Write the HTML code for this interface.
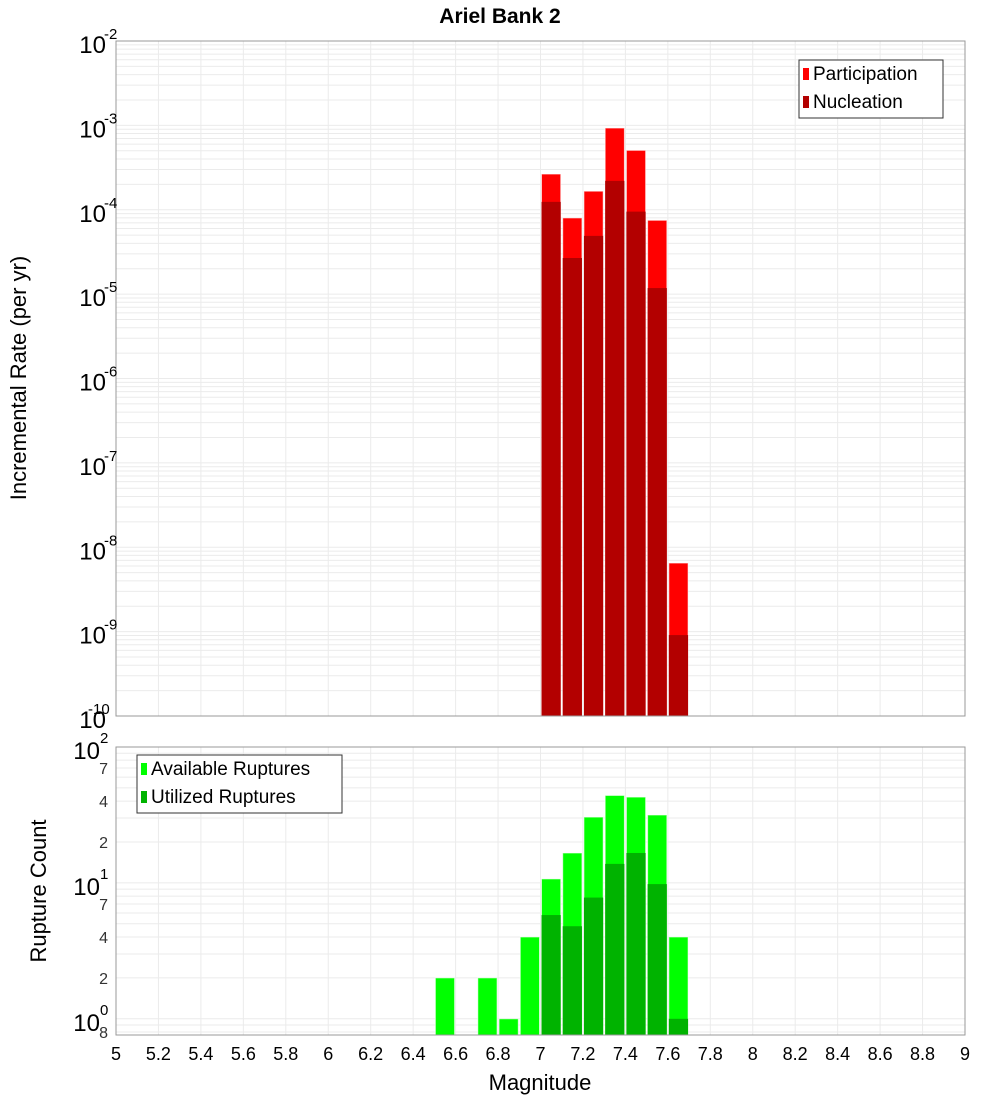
<!DOCTYPE html>
<html><head><meta charset="utf-8"><style>
body{margin:0;background:#fff;}
svg text{font-family:"Liberation Sans","DejaVu Sans",sans-serif;}
</style></head><body>
<svg id="chart" width="1000" height="1100" xmlns="http://www.w3.org/2000/svg">
<text x="500" y="23" text-anchor="middle" font-size="21" font-weight="bold">Ariel Bank 2</text>
<g id="top"></g><g id="bot"></g>
<text transform="translate(26,378) rotate(-90)" text-anchor="middle" font-size="22">Incremental Rate (per yr)</text>
<text transform="translate(46,891) rotate(-90)" text-anchor="middle" font-size="22">Rupture Count</text>
<text x="540" y="1090" text-anchor="middle" font-size="22">Magnitude</text>
</svg>
<script>
const mags=[6.55,6.75,6.85,6.95,7.05,7.15,7.25,7.35,7.45,7.55,7.65];
const participation=[0,0,0,0,2.65e-4,8.0e-5,1.66e-4,9.3e-4,5.06e-4,7.5e-5,6.5e-9];
const nucleation=[0,0,0,0,1.24e-4,2.68e-5,4.9e-5,2.2e-4,9.5e-5,1.18e-5,9.1e-10];
const available=[2,2,1,4,10.7,16.6,30.5,44,42.8,31.6,4];
const utilized=[0,0,0,0,5.8,4.8,7.8,13.8,16.6,9.8,1];
const xTicks=[5,5.2,5.4,5.6,5.8,6,6.2,6.4,6.6,6.8,7,7.2,7.4,7.6,7.8,8,8.2,8.4,8.6,8.8,9];
const topDecades=[-10,-9,-8,-7,-6,-5,-4,-3,-2];
const botMinorLabels=[0.8,2,4,7,20,40,70];

const NS="http://www.w3.org/2000/svg";
const X0=116,X1=965;
const T0=41,T1=716,B0=747,B1=1035;
const xs=m=>X0+(m-5)/4*(X1-X0);
const yTop=v=>T0+(-2-Math.log10(v))/8*(T1-T0);
const BMIN=0.76,BMAX=100;
const yBot=v=>B0+(Math.log10(BMAX)-Math.log10(v))/(Math.log10(BMAX)-Math.log10(BMIN))*(B1-B0);
function mk(tag,attrs,parent){const e=document.createElementNS(NS,tag);for(const k in attrs)e.setAttribute(k,attrs[k]);parent.appendChild(e);return e;}
const gT=document.getElementById('top'),gB=document.getElementById('bot');

function frame(g,y0,y1,yf,mn,mx,nameP){
  mk('rect',{x:X0,y:y0,width:X1-X0,height:y1-y0,fill:'#fff'},g);
  for(let e=Math.floor(Math.log10(mn));e<=Math.log10(mx);e++){
    for(let k=1;k<10;k++){const v=k*Math.pow(10,e);if(v<mn||v>mx)continue;const y=yf(v);
      const l=mk('line',{x1:X0,x2:X1,y1:y,y2:y,stroke:'#ebebeb','stroke-width':1},g);
      
      }
  }
  xTicks.forEach(t=>{const x=xs(t);const l=mk('line',{x1:x,x2:x,y1:y0,y2:y1,stroke:'#ebebeb'},g);
    
    });
}
function border(g,y0,y1,nameP){const r=mk('rect',{x:X0,y:y0,width:X1-X0,height:y1-y0,fill:'none',stroke:'#999'},g);
  
  }

frame(gT,T0,T1,yTop,1e-10,1e-2,'top');
mags.forEach((m,i)=>{
  const x=xs(m-0.05)+1,w=xs(m+0.05)-xs(m-0.05)-2;
  if(participation[i]>0){const r=mk('rect',{x:x,y:yTop(participation[i]),width:w,height:T1-yTop(participation[i]),fill:'#ff0000',stroke:'#fff','stroke-opacity':0.6},gT);
    
    }
  if(nucleation[i]>0){const r=mk('rect',{x:x,y:yTop(nucleation[i]),width:w,height:T1-yTop(nucleation[i]),fill:'#b30000'},gT);
    
    }
});
border(gT,T0,T1,'top');
topDecades.forEach(e=>{const y=yTop(Math.pow(10,e));
  const t=mk('text',{x:X0-10,y:y+12,'text-anchor':'end','font-size':24},gT);
  
  
  t.textContent='10';
  const s=mk('text',{x:X0-10,y:y-2,'font-size':15},gT);
  
  
  s.textContent=String(e);
  if(e<=-10) s.setAttribute('x',X0-28); else s.setAttribute('x',X0-12);
  s.setAttribute('text-anchor', e<=-10 ? 'start':'start');
});

frame(gB,B0,B1,yBot,BMIN,BMAX,'bottom');
mags.forEach((m,i)=>{
  const x=xs(m-0.05)+1,w=xs(m+0.05)-xs(m-0.05)-2;
  if(available[i]>0){const r=mk('rect',{x:x,y:yBot(available[i]),width:w,height:B1-yBot(available[i]),fill:'#00ff00',stroke:'#fff','stroke-opacity':0.6},gB);
    
    }
  if(utilized[i]>0){const r=mk('rect',{x:x,y:yBot(utilized[i]),width:w,height:B1-yBot(utilized[i]),fill:'#00b300'},gB);
    
    }
});
border(gB,B0,B1,'bottom');
[0,1,2].forEach(e=>{const y=yBot(Math.pow(10,e));
  const t=mk('text',{x:X0-16,y:y+12,'text-anchor':'end','font-size':24},gB);
  
  
  t.textContent='10';
  const s=mk('text',{x:X0-16,y:y-4,'font-size':15},gB);
  
  
  s.textContent=String(e);
});
botMinorLabels.forEach(v=>{const y=yBot(v);
  const t=mk('text',{x:X0-8,y:y+6,'text-anchor':'end','font-size':16,fill:'#333'},gB);
  
  
  t.textContent=String(v<1?Math.round(v*10):v%10===0?v/10:v);
});
xTicks.forEach(t=>{const x=xs(t);
  const l=mk('text',{x:x,y:1060,'text-anchor':'middle','font-size':18},gB);
  
  
  l.textContent=String(t);
});

function legend(g,x,y,w,items,nameP){
  const r=mk('rect',{x:x,y:y,width:w,height:items.length*28+2,fill:'#fff',stroke:'#333'},g);
  
  
  items.forEach((it,i)=>{
    const sw=mk('rect',{x:x+4,y:y+8+i*28,width:6,height:12,fill:it[1]},g);
    
    
    const t=mk('text',{x:x+14,y:y+20+i*28,'font-size':19},g);
    
    
    t.textContent=it[0];
  });
}
legend(gT,799,60,144,[['Participation','#ff0000'],['Nucleation','#b30000']],'top');
legend(gB,137,755,205,[['Available Ruptures','#00ff00'],['Utilized Ruptures','#00b300']],'bottom');
</script>
</body></html>
